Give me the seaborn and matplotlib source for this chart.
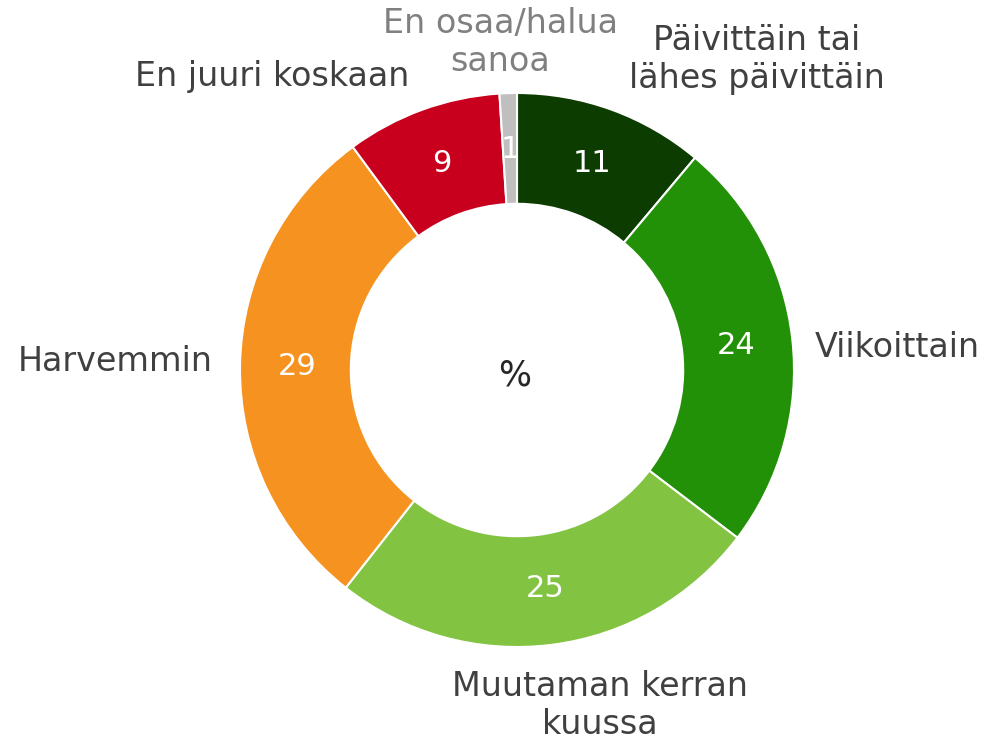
import numpy as np
import matplotlib
matplotlib.use("Agg")
import matplotlib.pyplot as plt
import seaborn as sns

# data (percent)
categories = ["Päivittäin tai\nlähes päivittäin", "Viikoittain", "Muutaman kerran\nkuussa",
              "Harvemmin", "En juuri koskaan", "En osaa/halua\nsanoa"]
values = [11, 24, 25, 29, 9, 1]
colors = ["#0d3c00", "#229108", "#82c342", "#f59220", "#c8001d", "#bfbfbf"]

sns.set_theme(style="white")
plt.rcParams["font.family"] = ["DejaVu Sans"]

fig = plt.figure(figsize=(9.99, 7.41), dpi=100)
ax = fig.add_axes([240 / 999, 94 / 741, 554 / 999, 554 / 741])

total = sum(values)
wedges, _, autotexts = ax.pie(
    values, colors=colors, startangle=90, counterclock=False,
    radius=1.0, pctdistance=0.795,
    autopct=lambda p: f"{p * total / 100:.0f}",
    wedgeprops=dict(width=0.40, edgecolor="white", linewidth=1.5),
    textprops=dict(color="white", fontsize=22),
)
ax.set_xlim(-1, 1)
ax.set_ylim(-1, 1)
ax.set_aspect("equal")

# label anchor spots around the ring
label_pos = [(0.866, 1.12, "center"), (1.076, 0.083, "left"), (0.30, -1.21, "center"),
             (-1.097, 0.03, "right"), (-0.884, 1.058, "center"), (-0.061, 1.182, "center")]
label_cols = ["#404040"] * 5 + ["#808080"]
for name, (x, y, ha), c in zip(categories, label_pos, label_cols):
    ax.text(x, y, name, ha=ha, va="center", fontsize=24, color=c,
            linespacing=1.2, multialignment="center")

ax.text(-0.01, -0.02, "%", ha="center", va="center", fontsize=25, color="#262626")

fig.savefig("out.png", dpi=100)
